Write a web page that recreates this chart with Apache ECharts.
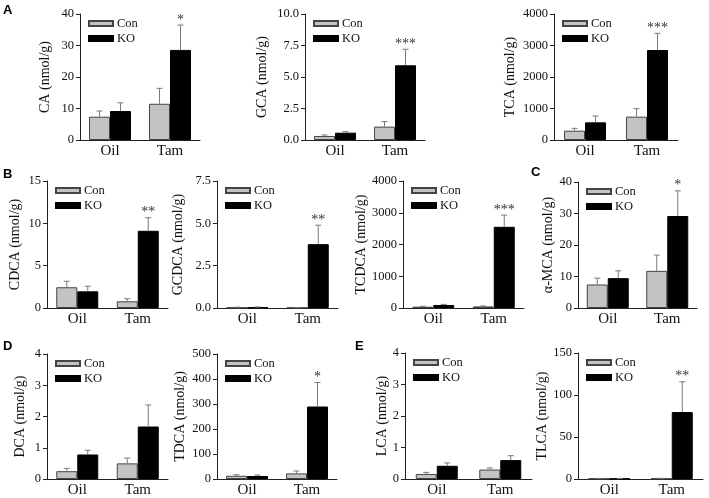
<!DOCTYPE html>
<html><head><meta charset="utf-8">
<script src="https://cdn.jsdelivr.net/npm/echarts@6/dist/echarts.min.js"></script>
<style>html,body{margin:0;padding:0;background:#fff}#c{width:709px;height:498px}</style>
</head><body><div id="c"></div><script>
const categories = ['Oil', 'Tam'];
const groups = ['Con', 'KO'];
// mean values and upper error-bar ends
const CA_con = [7.4, 11.5], CA_conTop = [9.2, 16.4], CA_ko = [9.2, 28.6], CA_koTop = [11.8, 36.5];
const GCA_con = [0.32, 1.06], GCA_conTop = [0.40, 1.46], GCA_ko = [0.58, 5.93], GCA_koTop = [0.66, 7.2];
const TCA_con = [296, 741], TCA_conTop = [370, 995], TCA_ko = [561, 2857], TCA_koTop = [762, 3386];
const CDCA_con = [2.45, 0.79], CDCA_conTop = [3.16, 1.10], CDCA_ko = [1.97, 9.12], CDCA_koTop = [2.57, 10.66];
const GCDCA_con = [0.03, 0.02], GCDCA_conTop = [0.05, 0.03], GCDCA_ko = [0.04, 3.77], GCDCA_koTop = [0.06, 4.89];
const TCDCA_con = [40, 50], TCDCA_conTop = [55, 65], TCDCA_ko = [95, 2558], TCDCA_koTop = [115, 2926];
const MCA_con = [7.47, 11.8], MCA_conTop = [9.47, 16.8], MCA_ko = [9.47, 29.2], MCA_koTop = [11.8, 37.2];
const DCA_con = [0.25, 0.5], DCA_conTop = [0.34, 0.67], DCA_ko = [0.785, 1.68], DCA_koTop = [0.92, 2.37];
const TDCA_con = [13, 22.5], TDCA_conTop = [17, 32], TDCA_ko = [12, 290], TDCA_koTop = [16, 386];
const LCA_con = [0.16, 0.3], LCA_conTop = [0.21, 0.35], LCA_ko = [0.42, 0.6], LCA_koTop = [0.51, 0.74];
const TLCA_con = [0.5, 0.6], TLCA_conTop = [0.7, 0.8], TLCA_ko = [0.5, 79.7], TLCA_koTop = [0.7, 115.7];
// significance marks (Tam KO)
const CA_sig = '*', GCA_sig = '***', TCA_sig = '***', CDCA_sig = '**', GCDCA_sig = '**', TCDCA_sig = '***';
const MCA_sig = '*', DCA_sig = '', TDCA_sig = '*', LCA_sig = '', TLCA_sig = '**';
// axis ranges [max, interval]
const CA_axis = [40, 10], GCA_axis = [10, 2.5], TCA_axis = [4000, 1000], CDCA_axis = [15, 5], GCDCA_axis = [7.5, 2.5];
const TCDCA_axis = [4000, 1000], MCA_axis = [40, 10], DCA_axis = [4, 1], TDCA_axis = [500, 100], LCA_axis = [4, 1], TLCA_axis = [150, 50];

const panels = [
  {title:'CA (nmol/g)', con:CA_con, conTop:CA_conTop, ko:CA_ko, koTop:CA_koTop, sig:CA_sig, ax:CA_axis, dec:0, g:[80,14,120,126], gap:28},
  {title:'GCA (nmol/g)', con:GCA_con, conTop:GCA_conTop, ko:GCA_ko, koTop:GCA_koTop, sig:GCA_sig, ax:GCA_axis, dec:1, g:[305,14,120,126], gap:36},
  {title:'TCA (nmol/g)', con:TCA_con, conTop:TCA_conTop, ko:TCA_ko, koTop:TCA_koTop, sig:TCA_sig, ax:TCA_axis, dec:0, g:[554,14,124,126], gap:37},
  {title:'CDCA (nmol/g)', con:CDCA_con, conTop:CDCA_conTop, ko:CDCA_ko, koTop:CDCA_koTop, sig:CDCA_sig, ax:CDCA_axis, dec:0, g:[47,181,121,127], gap:25},
  {title:'GCDCA (nmol/g)', con:GCDCA_con, conTop:GCDCA_conTop, ko:GCDCA_ko, koTop:GCDCA_koTop, sig:GCDCA_sig, ax:GCDCA_axis, dec:1, g:[217,181,121,127], gap:32},
  {title:'TCDCA (nmol/g)', con:TCDCA_con, conTop:TCDCA_conTop, ko:TCDCA_ko, koTop:TCDCA_koTop, sig:TCDCA_sig, ax:TCDCA_axis, dec:0, g:[403,181,121,127], gap:34},
  {title:'α-MCA (nmol/g)', con:MCA_con, conTop:MCA_conTop, ko:MCA_ko, koTop:MCA_koTop, sig:MCA_sig, ax:MCA_axis, dec:0, g:[578,182,119,126], gap:21},
  {title:'DCA (nmol/g)', con:DCA_con, conTop:DCA_conTop, ko:DCA_ko, koTop:DCA_koTop, sig:DCA_sig, ax:DCA_axis, dec:0, g:[47,354,121,126], gap:20},
  {title:'TDCA (nmol/g)', con:TDCA_con, conTop:TDCA_conTop, ko:TDCA_ko, koTop:TDCA_koTop, sig:TDCA_sig, ax:TDCA_axis, dec:0, g:[217,354,120,126], gap:30},
  {title:'LCA (nmol/g)', con:LCA_con, conTop:LCA_conTop, ko:LCA_ko, koTop:LCA_koTop, sig:LCA_sig, ax:LCA_axis, dec:0, g:[405,353,127,126], gap:9},
  {title:'TLCA (nmol/g)', con:TLCA_con, conTop:TLCA_conTop, ko:TLCA_ko, koTop:TLCA_koTop, sig:TLCA_sig, ax:TLCA_axis, dec:0, g:[578,353,125,127], gap:29}
];

const SERIF = '"Liberation Serif", "Times New Roman", serif';
const BW = 21;
const grid = [], xAxis = [], yAxis = [], series = [], legend = [];

function errSeries(i, data, off) {
  return {
    type: 'custom', xAxisIndex: i, yAxisIndex: i, silent: true, z: 5,
    data: data,
    renderItem: function (params, api) {
      const p0 = api.coord([api.value(0), api.value(1)]);
      const p1 = api.coord([api.value(0), api.value(2)]);
      const x = p0[0] + off;
      return {type: 'group', children: [
        {type: 'line', shape: {x1: x, y1: p0[1], x2: x, y2: p1[1]}, style: {stroke: '#7a7a7a', lineWidth: 1}},
        {type: 'line', shape: {x1: x - 3, y1: p1[1], x2: x + 3, y2: p1[1]}, style: {stroke: '#7a7a7a', lineWidth: 1}}
      ]};
    }
  };
}

panels.forEach((p, i) => {
  const [l, t, w, h] = p.g;
  grid.push({left: l, top: t, width: w, height: h, containLabel: false});
  xAxis.push({type: 'category', gridIndex: i, data: categories,
    axisLine: {lineStyle: {color: '#222', width: 1}}, axisTick: {show: false},
    axisLabel: {fontSize: 15, color: '#111', fontFamily: SERIF, margin: 4}});
  yAxis.push({type: 'value', gridIndex: i, min: 0, max: p.ax[0], interval: p.ax[1],
    name: p.title, nameLocation: 'middle', nameGap: p.gap, nameRotate: 90,
    nameTextStyle: {fontSize: 14, color: '#111', fontFamily: SERIF},
    splitLine: {show: false},
    axisLine: {show: true, lineStyle: {color: '#222', width: 1}},
    axisTick: {show: true, length: 4, lineStyle: {color: '#222'}},
    axisLabel: {fontSize: 12.5, color: '#111', fontFamily: SERIF, margin: 6,
      formatter: v => v.toFixed(p.dec)}});
  series.push({type: 'bar', name: groups[0], xAxisIndex: i, yAxisIndex: i, data: p.con,
    barWidth: BW, barGap: '0%', itemStyle: {color: '#c3c3c3', borderColor: '#444', borderWidth: 1}});
  series.push({type: 'bar', name: groups[1], xAxisIndex: i, yAxisIndex: i, data: p.ko,
    barWidth: BW, barGap: '0%', itemStyle: {color: '#000', borderColor: '#000', borderWidth: 1}});
  series.push(errSeries(i, categories.map((c, k) => [k, p.con[k], p.conTop[k]]), -BW / 2));
  series.push(errSeries(i, categories.map((c, k) => [k, p.ko[k], p.koTop[k]]), BW / 2));
  if (p.sig) {
    series.push({type: 'custom', xAxisIndex: i, yAxisIndex: i, silent: true, z: 6,
      data: [[1, p.koTop[1]]],
      renderItem: function (params, api) {
        const pt = api.coord([api.value(0), api.value(1)]);
        return {type: 'text', style: {text: p.sig, x: pt[0] + BW / 2, y: pt[1] - 5,
          align: 'center', verticalAlign: 'middle', fontSize: 14, fontFamily: SERIF, fill: '#333'}};
      }});
  }
  legend.push({data: groups, orient: 'vertical', left: l + 8, top: t + 3, padding: 0,
    itemWidth: 24, itemHeight: 5, itemGap: 2, selectedMode: false, icon: 'rect',
    textStyle: {fontSize: 12.5, color: '#111', fontFamily: SERIF, padding: [0, 0, 0, -1]}});
});

const letters = [['A', 3, 4], ['B', 3, 168], ['C', 531, 166], ['D', 3, 340], ['E', 355, 340]];
const graphic = letters.map(([s, x, y]) => ({type: 'text', left: x, top: y,
  style: {text: s, fontSize: 13, fontWeight: 'bold', fontFamily: '"Liberation Sans", Arial, sans-serif', fill: '#000'}}));

const chart = echarts.init(document.getElementById('c'), null, {renderer: 'canvas'});
chart.setOption({animation: false, backgroundColor: '#fff', grid, xAxis, yAxis, series, legend, graphic});
</script></body></html>
